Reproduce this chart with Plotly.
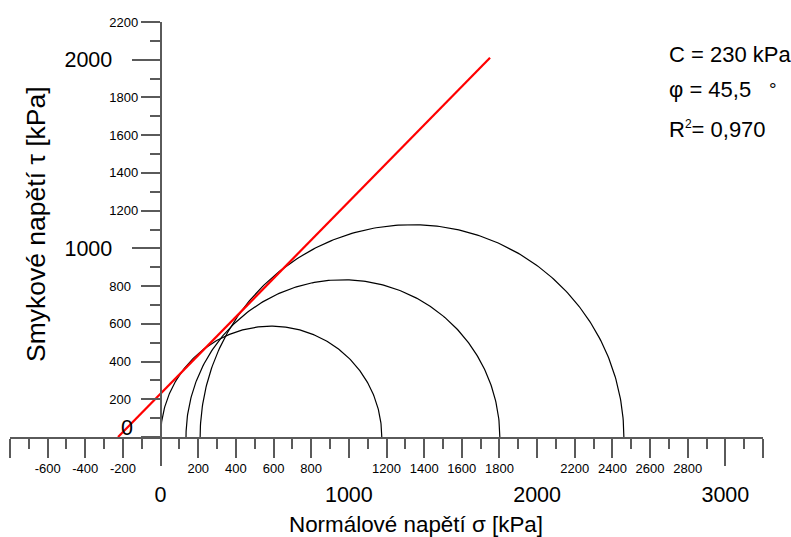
import numpy as np
import plotly.graph_objects as go

# ---- data ----
sigma3 = [0, 135, 210]          # minor principal stress [kPa]
sigma1 = [1175, 1802, 2461]     # major principal stress [kPa]
C = 230                         # cohesion [kPa]
phi_deg = 45.5                  # friction angle [deg]
R2 = "0,970"
sigma_line_end = 1750           # end of envelope line [kPa]

x_major = list(range(-800, 3201, 200))
x_minor = list(range(-700, 3200, 200))
x_big = [0, 1000, 2000, 3000]
x_long = [0, 3000]
y_major = list(range(0, 2201, 200))
y_minor = list(range(100, 2200, 200))
y_big = [1000, 2000]

FONT = "Arial, Liberation Sans, sans-serif"
AX = "#5a5a5a"

def xlab(v):
    return "" if v in (-800, 0, 1000, 2000, 3000, 3200) else str(v)

def ylab(v):
    if v in (0, 1000, 2000):
        return ""
    s = str(v)
    return s + "\u2007" * (4 - len(s))

fig = go.Figure()
t = np.linspace(0, np.pi, 241)
for s3, s1 in zip(sigma3, sigma1):
    c = (s1 + s3) / 2
    r = (s1 - s3) / 2
    fig.add_trace(go.Scatter(x=c + r * np.cos(t), y=r * np.sin(t), mode="lines",
                             line=dict(color="black", width=1.2),
                             hoverinfo="skip", showlegend=False))

tphi = np.tan(np.radians(phi_deg))
lx = [-C / tphi, sigma_line_end]
ly = [C + tphi * v for v in lx]
fig.add_trace(go.Scatter(x=lx, y=ly, mode="lines", line=dict(color="#ff0000", width=2.2),
                         hoverinfo="skip", showlegend=False))

# empty traces so that the overlay axes get drawn
for xa, ya in (("x2", "y"), ("x3", "y"), ("x", "y2")):
    fig.add_trace(go.Scatter(x=[], y=[], xaxis=xa, yaxis=ya, mode="lines",
                             hoverinfo="skip", showlegend=False))

W, H = 791, 537
ml, mr, mt, mb = 10, 28, 22, 100
pw, ph = W - ml - mr, H - mt - mb

def px(x):
    return (x - ml) / pw

def py(y):
    return (H - mb - y) / ph

common = dict(showgrid=False, zeroline=False)
fig.update_layout(
    width=W, height=H, margin=dict(l=ml, r=mr, t=mt, b=mb),
    plot_bgcolor="white", paper_bgcolor="white", showlegend=False,
    font=dict(family=FONT, color="black"),
    xaxis=dict(range=[-800, 3200], anchor="y", tickmode="array", tickvals=x_major,
               ticktext=[xlab(v) for v in x_major], ticks="outside", ticklen=19,
               tickwidth=1.5, tickcolor=AX, showline=True, linecolor=AX, linewidth=1.5,
               tickfont=dict(size=13, family=FONT, color="black"),
               minor=dict(tickvals=x_minor, ticks="outside", ticklen=10, tickwidth=1.5, tickcolor=AX),
               **common),
    xaxis2=dict(range=[-800, 3200], overlaying="x", anchor="y", tickmode="array",
                tickvals=x_big, ticktext=[str(v) for v in x_big], ticks="",
                tickfont=dict(size=21.5, family=FONT, color="black"), ticklabelstandoff=42,
                showline=False, **common),
    xaxis3=dict(range=[-800, 3200], overlaying="x", anchor="y", tickmode="array",
                tickvals=x_long, ticktext=["", ""], ticks="outside", ticklen=28, tickwidth=1.5,
                tickcolor=AX, showticklabels=False, showline=False, **common),
    yaxis=dict(range=[0, 2200], anchor="free", position=0.2, side="left", tickmode="array",
               tickvals=y_major, ticktext=[ylab(v) for v in y_major], ticks="outside",
               ticklen=19, tickwidth=1.5, tickcolor=AX, showline=True, linecolor=AX,
               linewidth=1.5, tickfont=dict(size=13, family=FONT, color="black"),
               minor=dict(tickvals=y_minor, ticks="outside", ticklen=10, tickwidth=1.5, tickcolor=AX),
               **common),
    yaxis2=dict(range=[0, 2200], overlaying="y", anchor="free", position=0.2, side="left",
                tickmode="array", tickvals=y_big, ticktext=[str(v) for v in y_big],
                ticks="outside", ticklen=29, tickwidth=1.5, tickcolor=AX,
                tickfont=dict(size=21.5, family=FONT, color="black"), ticklabelstandoff=15,
                showline=False, **common),
)

ann = [
    dict(text="0", x=px(126.7), y=py(428), font=dict(size=21.5)),
    dict(text="Normálové napětí σ [kPa]", x=px(416), y=py(524), font=dict(size=22.4)),
    dict(text="Smykové napětí τ [kPa]", x=px(36), y=py(224), font=dict(size=26.5), textangle=-90),
    dict(text="C = 230 kPa", x=px(667), y=py(54), xanchor="left", font=dict(size=22)),
    dict(text=f"φ = {str(phi_deg).replace('.', ',')}", x=px(667), y=py(89), xanchor="left", font=dict(size=22)),
    dict(text="°", x=px(772.5), y=py(89), font=dict(size=19)),
    dict(text=f"R<sup><span style='font-size:12px'>2</span></sup>= {R2}", x=px(667), y=py(129),
         xanchor="left", font=dict(size=22)),
]
for a in ann:
    a.setdefault("xanchor", "center")
    fig.add_annotation(xref="paper", yref="paper", showarrow=False, yanchor="middle",
                       font_family=FONT, font_color="black",
                       **{k: v for k, v in a.items()})

fig.write_html("out.html", config={"displayModeBar": False},
               post_script="document.body.style.margin='0';")
